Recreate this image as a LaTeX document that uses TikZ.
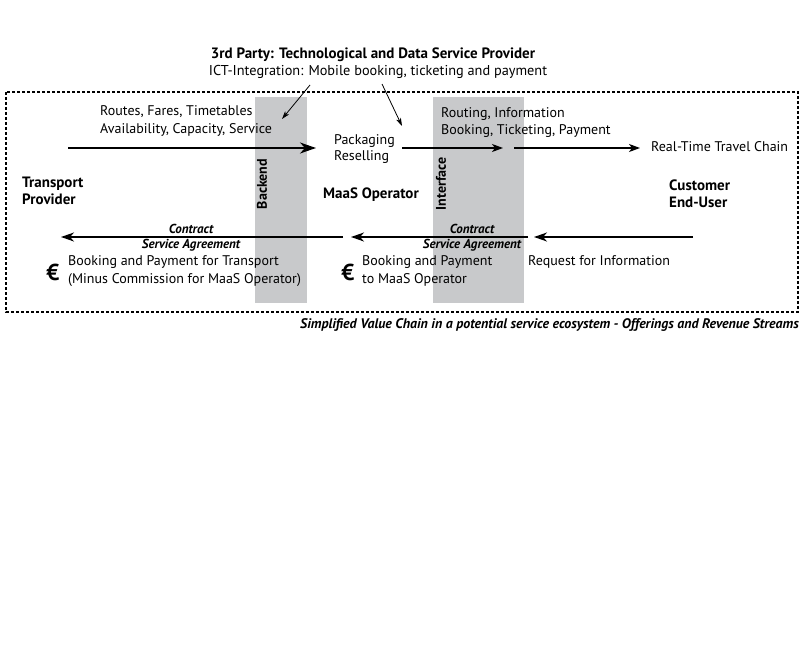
\documentclass[tikz,border=0pt]{standalone}
\usepackage{fontspec}
\setmainfont{PT Sans}
\usetikzlibrary{arrows.meta}
\definecolor{panel}{RGB}{200,201,203}
\tikzset{
  txt/.style={inner sep=0pt, anchor=west, font=\fontsize{14}{16}\selectfont, align=left},
  btxt/.style={txt, font=\fontsize{15}{17}\selectfont\bfseries},
  ctxt/.style={inner sep=0pt, font=\fontsize{13}{15}\selectfont\bfseries\itshape},
  bigarrow/.style={line width=2pt, -{Stealth[length=16pt,width=11pt,inset=5pt]}},
  midarrow/.style={line width=1.6pt, -{Stealth[length=13pt,width=9pt,inset=4pt]}},
  thinarrow/.style={line width=0.8pt, -{Stealth[length=8pt,width=5pt,inset=2pt]}},
  medarrow/.style={line width=1.2pt, -{Stealth[length=11pt,width=8pt,inset=3pt]}},
  panelbox/.style={fill=panel, draw=none},
  vlabel/.style={rotate=90, inner sep=0pt, font=\fontsize{14}{16}\selectfont\bfseries},
  euro/.style={inner sep=0pt, font=\fontsize{23}{23}\selectfont\bfseries},
}
\begin{document}
\begin{tikzpicture}[x=1pt,y=-1pt]
\useasboundingbox (0,0) rectangle (800,650);
\fill[white] (0,0) rectangle (800,650);
% gray panels
\path[panelbox] (255,97) rectangle (307,303);
\path[panelbox] (433,97) rectangle (524,303);
\node[vlabel] (backend) at (262,184) {Backend};
\node[vlabel] (interface) at (441,184) {Interface};
% dashed frame
\draw[line width=1.8pt, dash pattern=on 3pt off 2pt] (6,92) rectangle (798,312);
% header
\node[inner sep=0pt, font=\fontsize{15}{17}\selectfont\bfseries] (title) at (373,55) {3rd Party: Technological and Data Service Provider};
\node[inner sep=0pt, font=\fontsize{14.3}{16}\selectfont] (ict) at (378,72) {ICT-Integration: Mobile booking, ticketing and payment};
\coordinate (a1s) at (310,85);
\coordinate (a1e) at (282,119);
\coordinate (a2s) at (382,84);
\coordinate (a2e) at (402,126);
\draw[thinarrow] (a1s) -- (a1e);
\draw[thinarrow] (a2s) -- (a2e);
% top texts
\node[txt] (routes) at (100,112) {Routes, Fares, Timetables};
\node[txt] (avail) at (100,130) {Availability, Capacity, Service};
\node[txt] (pack) at (334,141) {Packaging};
\node[txt] (resell) at (334,157) {Reselling};
\node[txt] (routing) at (441,114) {Routing, Information};
\node[txt] (booking) at (441,131) {Booking, Ticketing, Payment};
\node[txt] (rt) at (651,147) {Real-Time Travel Chain};
\coordinate (m1s) at (68,148);
\coordinate (m1e) at (316,148);
\coordinate (m2s) at (402,148);
\coordinate (m2e) at (503,148);
\coordinate (m3s) at (514,148);
\coordinate (m3e) at (640,148);
\draw[bigarrow] (m1s) -- (m1e);
\draw[medarrow] (m2s) -- (m2e);
\draw[medarrow] (m3s) -- (m3e);
% actors
\node[btxt] (tp) at (22,191) {Transport\\Provider};
\node[btxt] (maas) at (323,195) {MaaS Operator};
\node[btxt] (cust) at (669,194) {Customer\\End-User};
% bottom arrows
\coordinate (b1s) at (343,237);
\coordinate (b1e) at (61,237);
\coordinate (b2s) at (528,237);
\coordinate (b2e) at (351,237);
\coordinate (b3s) at (693,237);
\coordinate (b3e) at (534,237);
\draw[midarrow] (b1s) -- (b1e);
\draw[midarrow] (b2s) -- (b2e);
\draw[midarrow] (b3s) -- (b3e);
\node[ctxt] (c1) at (191,229) {Contract};
\node[ctxt] (s1) at (191,245) {Service Agreement};
\node[ctxt] (c2) at (472,229) {Contract};
\node[ctxt] (s2) at (472,245) {Service Agreement};
% revenue
\node[euro] (eur1) at (53,272) {€};
\node[txt] (bp1) at (68,262) {Booking and Payment for Transport};
\node[txt] (bp1b) at (68,280) {(Minus Commission for MaaS Operator)};
\node[euro] (eur2) at (348,272) {€};
\node[txt] (bp2) at (362,262) {Booking and Payment};
\node[txt] (bp2b) at (362,280) {to MaaS Operator};
\node[txt] (req) at (528,262) {Request for Information};
% caption
\node[inner sep=0pt, anchor=east, font=\fontsize{13.9}{15}\selectfont\bfseries\itshape] (cap) at (799,325) {Simplified Value Chain in a potential service ecosystem - Offerings and Revenue Streams};
\end{tikzpicture}
\end{document}
